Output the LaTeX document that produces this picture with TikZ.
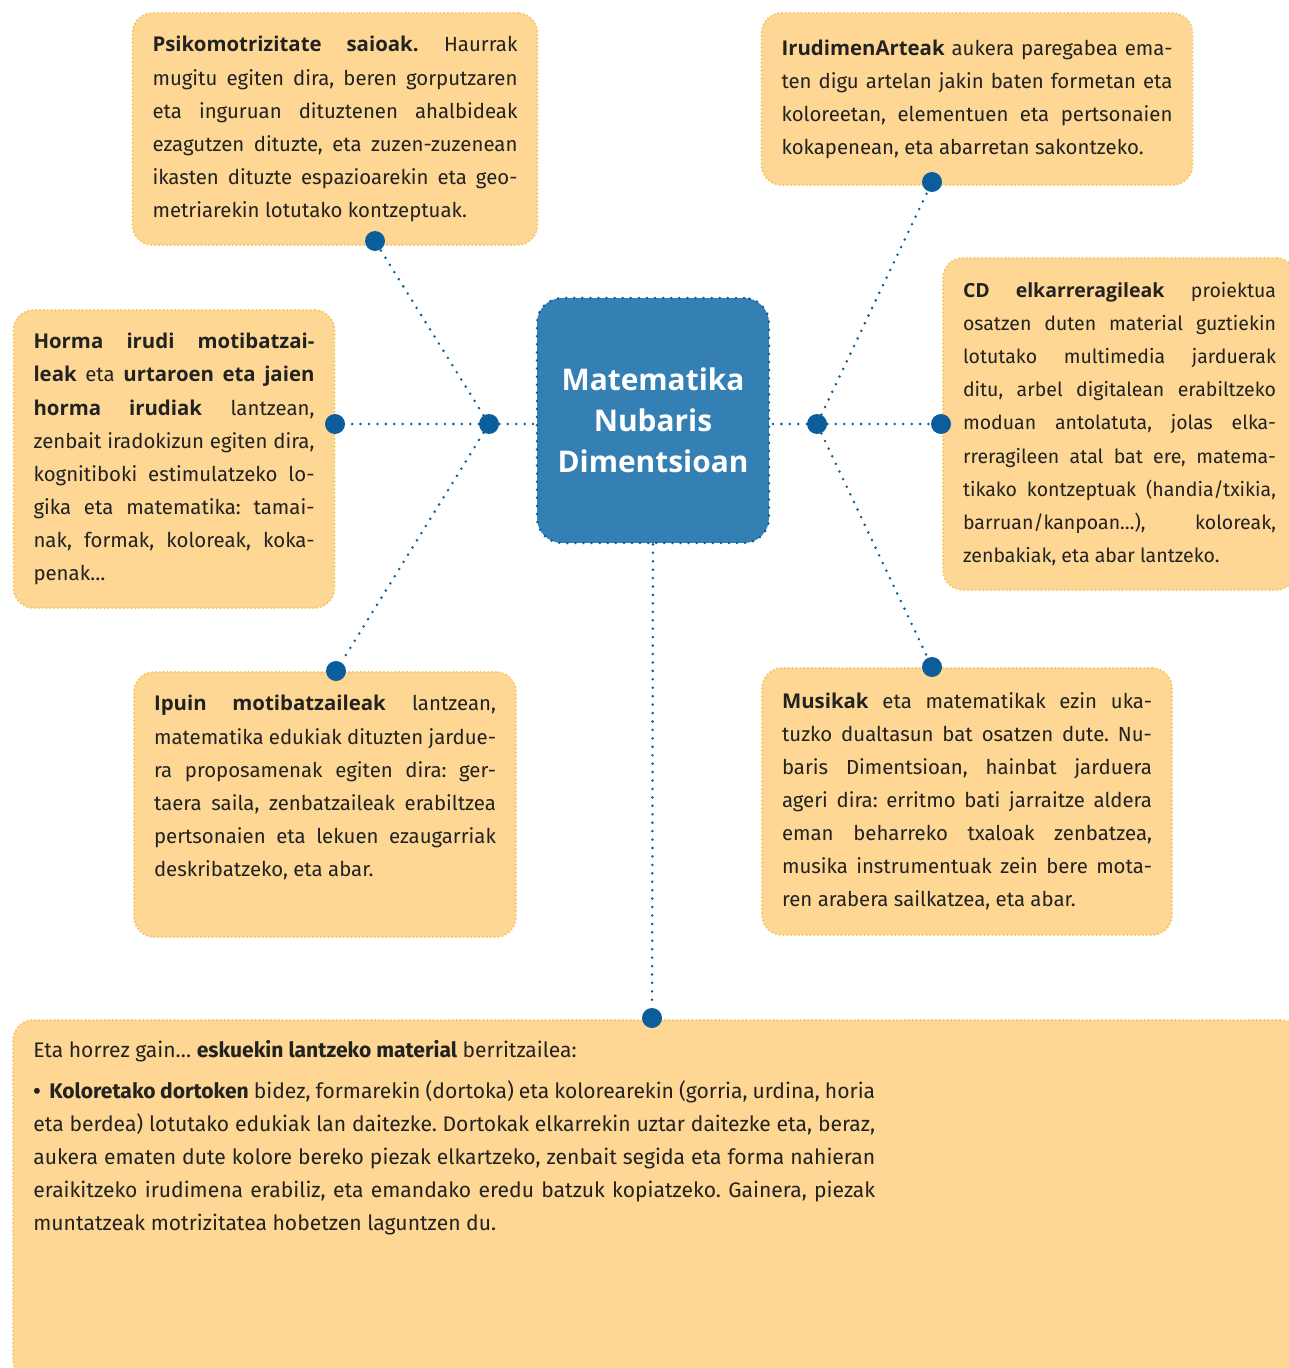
\documentclass[tikz,border=0pt]{standalone}
\usepackage{fontspec}
\setmainfont{Fira Sans}
\newfontfamily\titlefont{Open Sans}
\usepackage{xcolor}
\definecolor{boxfill}{HTML}{FDD793}
\definecolor{boxedge}{HTML}{F7C35E}
\definecolor{hubblue}{HTML}{3480B4}
\definecolor{darkblue}{HTML}{0B5E9B}
\definecolor{inktext}{HTML}{222222}
\newcommand{\boxfont}{\fontsize{11.6}{18.8}\selectfont}
\newcommand{\extrafont}{\fontsize{12}{18.8}\selectfont}
\newcommand{\lead}[1]{{\titlefont\bfseries #1}}
\frenchspacing

\begin{document}
\begin{tikzpicture}[x=0.02cm, y=-0.02cm,
    infobox/.style={rectangle, draw=boxedge, fill=boxfill, line width=1.3pt, dash pattern=on 0pt off 2.2pt, line cap=round, rounded corners=0.4cm, inner xsep=0.4cm, align=justify, text=inktext, font=\boxfont},
    hubbox/.style={rectangle, draw=darkblue, fill=hubblue, line width=1.6pt, dash pattern=on 0pt off 4.6pt, line cap=round, rounded corners=0.5cm, minimum width=4.64cm, minimum height=4.9cm, align=center, text=white, font=\titlefont\bfseries\fontsize{17}{23.5}\selectfont},
    blob/.style={circle, fill=darkblue, inner sep=0pt, minimum size=0.4cm},
    link/.style={draw=darkblue, line width=1.6pt, line cap=round, dash pattern=on 0pt off 4.8pt}
]
    \useasboundingbox (0,0) rectangle (1288,1368);

    \node[infobox, text width=7.3cm, minimum height=4.64cm] (psiko) at (335,129) {\lead{Psikomotrizitate saioak.} Haurrak\linebreak mugitu egiten dira, beren gorputzaren\linebreak eta inguruan dituztenen ahalbideak\linebreak ezagutzen dituzte, eta zuzen-zuzenean\linebreak ikasten dituzte espazioarekin eta geo-\linebreak metriarekin lotutako kontzeptuak.};
    \node[infobox, text width=7.82cm, minimum height=3.44cm] (irudimen) at (977,99) {\lead{IrudimenArteak} aukera paregabea ema-\linebreak ten digu artelan jakin baten formetan eta\linebreak koloreetan, elementuen eta pertsonaien\linebreak kokapenean, eta abarretan sakontzeko.};
    \node[infobox, text width=6.26cm, minimum height=6.64cm, font=\fontsize{11.1}{18.8}\selectfont] (cd) at (1119.5,424) {\lead{CD elkarreragileak} proiektua\linebreak osatzen duten material guztiekin\linebreak lotutako multimedia jarduerak\linebreak ditu, arbel digitalean erabiltzeko\linebreak moduan antolatuta, jolas elka-\linebreak rreragileen atal bat ere, matema-\linebreak tikako kontzeptuak (handia/txikia,\linebreak barruan/kanpoan…), koloreak,\linebreak zenbakiak, eta abar lantzeko.};
    \node[infobox, text width=5.62cm, minimum height=5.96cm] (horma) at (174,459) {\lead{Horma irudi motibatzai-\linebreak leak} eta \lead{urtaroen eta jaien\linebreak horma irudiak} lantzean,\linebreak zenbait iradokizun egiten dira,\linebreak kognitiboki estimulatzeko lo-\linebreak gika eta matematika: tamai-\linebreak nak, formak, koloreak, koka-\linebreak penak…};
    \node[infobox, text width=6.84cm, minimum height=5.3cm] (ipuin) at (325,804.5) {\lead{Ipuin motibatzaileak} lantzean,\linebreak matematika edukiak dituzten jardue-\linebreak ra proposamenak egiten dira: ger-\linebreak taera saila, zenbatzaileak erabiltzea\linebreak pertsonaien eta lekuen ezaugarriak\linebreak deskribatzeko, eta abar.\par\vspace{0.68cm}};
    \node[infobox, text width=7.4cm, minimum height=5.34cm] (musika) at (967,801.5) {\lead{Musikak} eta matematikak ezin uka-\linebreak tuzko dualtasun bat osatzen dute. Nu-\linebreak baris Dimentsioan, hainbat jarduera\linebreak ageri dira: erritmo bati jarraitze aldera\linebreak eman beharreko txaloak zenbatzea,\linebreak musika instrumentuak zein bere mota-\linebreak ren arabera sailkatzea, eta abar.};
    \node[infobox, minimum width=25.74cm, minimum height=7.2cm] (extra) at (656.5,1200) {};
    \node[anchor=north west, inner sep=0pt, text width=16.84cm, align=justify, text=inktext, font=\extrafont] (extratext) at (33,1040) {Eta horrez gain… \textbf{eskuekin lantzeko material} berritzailea:\par\vspace{0.16cm}
    \noindent\hangindent=0.32cm\hangafter=1\makebox[0.32cm][l]{\textbf{•}}\textbf{Koloretako dortoken} bidez, formarekin (dortoka) eta kolorearekin (gorria, urdina, horia\linebreak eta berdea) lotutako edukiak lan daitezke. Dortokak elkarrekin uztar daitezke eta, beraz,\linebreak aukera ematen dute kolore bereko piezak elkartzeko, zenbait segida eta forma nahieran\linebreak eraikitzeko irudimena erabiliz, eta emandako eredu batzuk kopiatzeko. Gainera, piezak\linebreak muntatzeak motrizitatea hobetzen laguntzen du.};

    \node[hubbox] (centre) at (653,420.5) {Matematika\\Nubaris\\Dimentsioan};

    \node[blob] (lhub) at (489,424) {};
    \node[blob] (rhub) at (817,424) {};
    \node[blob] (psikodot) at (375,241) {};
    \node[blob] (hormadot) at (335,424) {};
    \node[blob] (ipuindot) at (336,671) {};
    \node[blob] (irudimendot) at (932,182) {};
    \node[blob] (cddot) at (941,424) {};
    \node[blob] (musikadot) at (932,667) {};
    \node[blob] (extradot) at (652,1018) {};

    \draw[link] (lhub) -- (lhub -| centre.west);
    \draw[link] (lhub) -- (psikodot);
    \draw[link] (lhub) -- (hormadot);
    \draw[link] (lhub) -- (ipuindot);
    \draw[link] (rhub) -- (rhub -| centre.east);
    \draw[link] (rhub) -- (irudimendot);
    \draw[link] (rhub) -- (cddot);
    \draw[link] (rhub) -- (musikadot);
    \draw[link] (centre.south) -- (extradot);
\end{tikzpicture}
\end{document}
